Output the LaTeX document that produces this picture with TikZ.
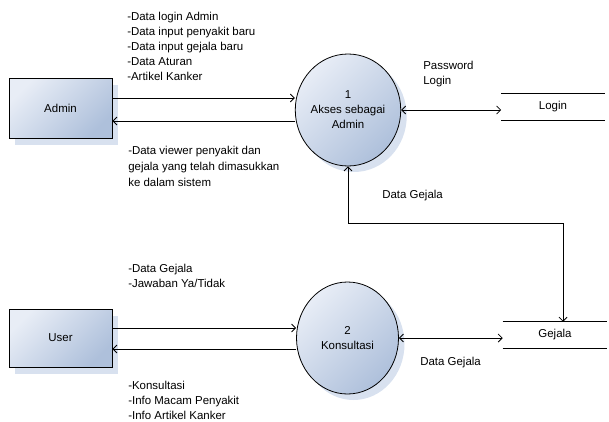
\documentclass[tikz,border=0pt]{standalone}
\usepackage{fontspec}
\setmainfont{Liberation Sans}
\usetikzlibrary{arrows.meta,shapes.geometric,shadows}

\definecolor{fill light}{HTML}{E8EDF6}
\definecolor{fill dark}{HTML}{AEC0DB}
\definecolor{shadow blue}{HTML}{D8E1EF}

\tikzset{
    every node/.style={font=\fontsize{8.6}{11.25}\selectfont},
    entity/.style={draw, line width=0.6pt, minimum width=77.25pt, minimum height=45pt,
        top color=fill light, bottom color=fill dark, shading angle=45,
        drop shadow={fill=shadow blue, opacity=1, shadow xshift=4.5pt, shadow yshift=-5.5pt}},
    process/.style={ellipse, draw, line width=0.6pt, minimum width=76.5pt, minimum height=84pt,
        inner sep=0pt, align=center,
        top color=fill light, bottom color=fill dark, shading angle=45,
        drop shadow={fill=shadow blue, opacity=1, shadow xshift=4.5pt, shadow yshift=-4.5pt}},
    store/.style={minimum width=77.25pt, minimum height=19.5pt, inner sep=0pt},
    label/.style={anchor=west, align=left, inner sep=0pt},
    flow/.style={line width=0.6pt, -{Straight Barb[length=3pt,width=6pt]}},
    dflow/.style={line width=0.6pt, {Straight Barb[length=3pt,width=6pt]}-{Straight Barb[length=3pt,width=6pt]}}
}

\begin{document}
\begin{tikzpicture}[x=0.75pt, y=-0.75pt]

    \useasboundingbox (0,0) rectangle (609,421);

    % Step 1: external entities
    \node[entity] (admin) at (60.5,108) {Admin};
    \node[entity, minimum height=43.5pt] (user) at (60.5,338) {User};

    % Step 2: processes
    \node[process] (akses) at (348,110) {1\\Akses sebagai\\Admin};
    \node[process] (konsul) at (347.5,338) {2\\Konsultasi};

    % Step 3: data stores (open rectangles)
    \node[store] (login) at (553,107) {Login};
    \draw[line width=0.6pt] (login.north west) -- (login.north east);
    \draw[line width=0.6pt] (login.south west) -- (login.south east);

    \node[store, minimum width=78pt] (gejala) at (555,335) {Gejala};
    \draw[line width=0.6pt] (gejala.north west) -- (gejala.north east);
    \draw[line width=0.6pt] (gejala.south west) -- (gejala.south east);

    % Step 4: flows between admin and process 1
    \draw[flow] ([yshift=7.5pt]admin.east) -- ([yshift=7.5pt]admin.east -| akses.west);
    \draw[flow] ([yshift=-9.75pt]admin.east -| akses.west) -- ([yshift=-9.75pt]admin.east);
    \draw[dflow] (akses.east) -- (akses.east -| login.west);

    % Data Gejala between process 1 and the store
    \coordinate (turn) at (563,223);
    \draw[dflow] (akses.south) |- (turn) -- (turn |- gejala.north);

    % Step 5: flows between user and process 2
    \draw[flow] ([yshift=7.5pt]user.east) -- ([yshift=7.5pt]user.east -| konsul.west);
    \draw[flow] ([yshift=-8.25pt]user.east -| konsul.west) -- ([yshift=-8.25pt]user.east);
    \draw[dflow] (konsul.east) -- (konsul.east -| gejala.west);

    % Labels
    \node[label] (admin in) at (127,46) {-Data login Admin\\-Data input penyakit baru\\-Data input gejala baru\\-Data Aturan\\-Artikel Kanker};
    \node[label, font=\fontsize{8.6}{12}\selectfont] (admin out) at (128,166.5) {-Data viewer penyakit dan\\ gejala yang telah dimasukkan\\ ke dalam sistem};
    \node[label] (pass) at (423,74) {Password\\Login};
    \node[label] (gejala up) at (382,196) {Data Gejala};
    \node[label] (user in) at (128,275.5) {-Data Gejala\\-Jawaban Ya/Tidak};
    \node[label] (user out) at (128,400.5) {-Konsultasi\\-Info Macam Penyakit\\-Info Artikel Kanker};
    \node[label] (gejala down) at (420,363) {Data Gejala};

\end{tikzpicture}
\end{document}
